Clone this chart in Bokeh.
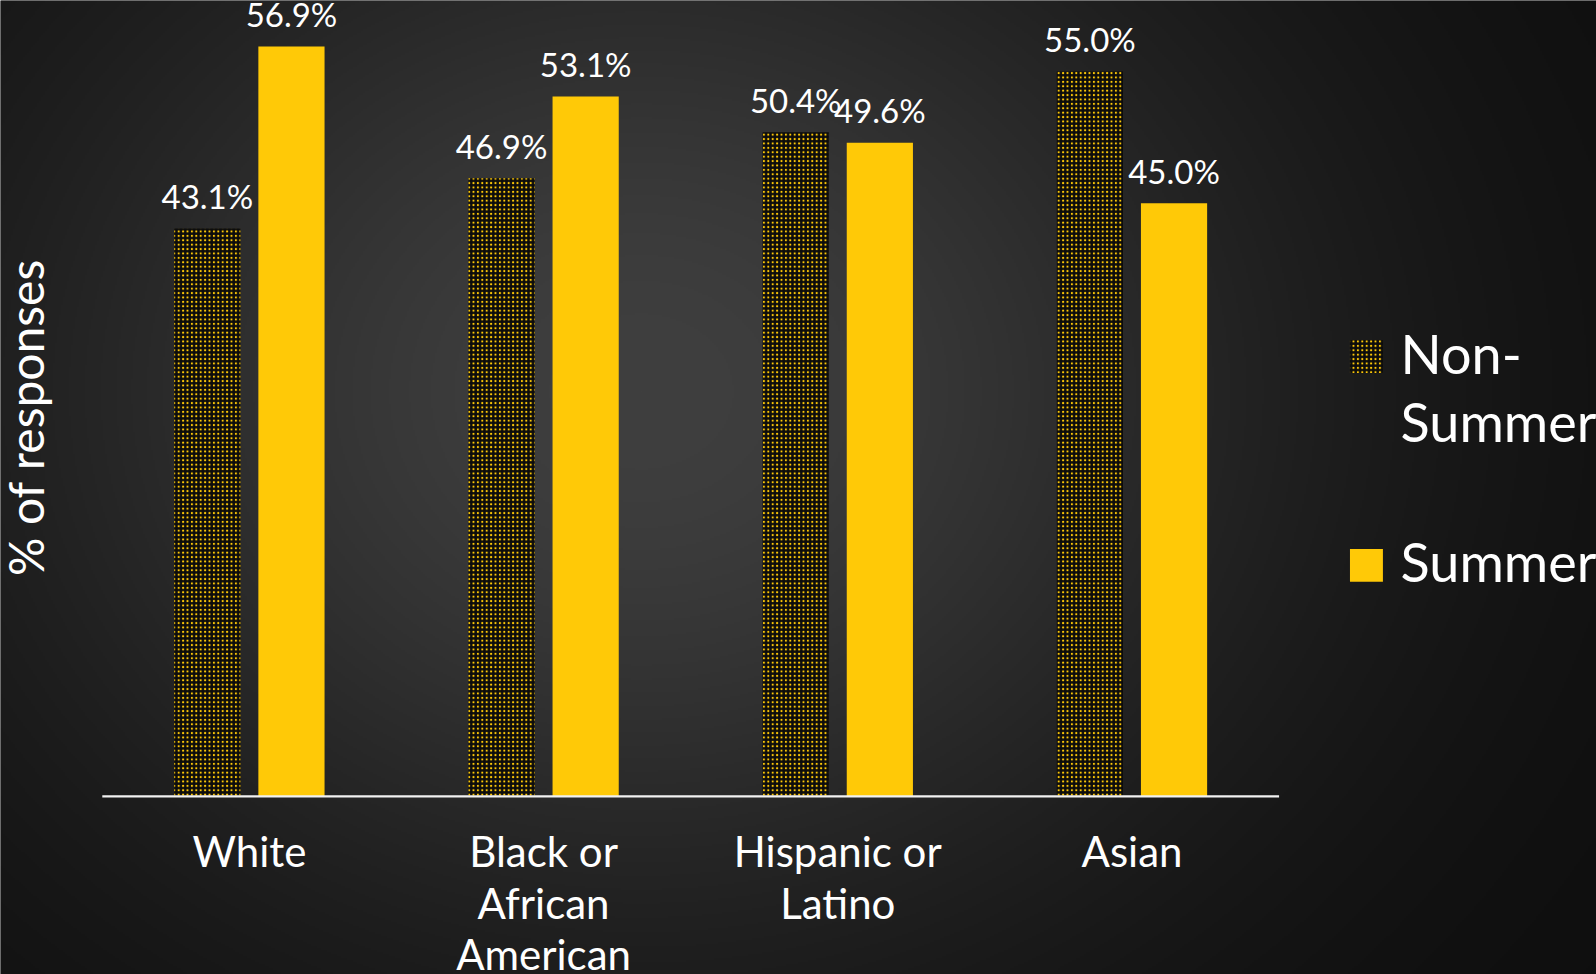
import numpy as np
from bokeh.plotting import figure
from bokeh.models import ColumnDataSource, Range1d
from bokeh.core.properties import value
from bokeh.embed import file_html
from bokeh.resources import INLINE

# ---- data ----
categories = ["White", "Black or\nAfrican\nAmerican", "Hispanic or\nLatino", "Asian"]
non_summer = [43.1, 46.9, 50.4, 55.0]
summer = [56.9, 53.1, 49.6, 45.0]
series_names = ["Non-\nSummer", "Summer"]
y_title = "% of responses"

YELLOW = "#FFC907"
FONT = "Lato"

W, H = 1596, 974
x0, x1 = -0.846, 4.579
y0, y1 = -13.51, 60.39

p = figure(width=W, height=H, x_range=Range1d(x0, x1), y_range=Range1d(y0, y1),
           x_axis_type=None, y_axis_type=None, toolbar_location=None,
           output_backend="svg", min_border=0, outline_line_color=None,
           background_fill_color="#1a1a1a", border_fill_color="#1a1a1a")
p.grid.visible = False

# radial gradient background
ny, nx = 487, 798
yy, xx = np.mgrid[0:ny, 0:nx]
sx = xx * (W / nx)
sy = (ny - 1 - yy) * (H / ny)  # row 0 is bottom
cx, cy = 640, 390
r2 = ((sx - cx) / 650.0) ** 2 + ((sy - cy) / 550.0) ** 2
v = 13 + 50 * np.exp(-r2)
v = np.clip(v, 0, 255).astype(np.uint32)
img = (255 << 24) | (v << 16) | (v << 8) | v
p.image_rgba(image=[img.astype(np.uint32)], x=x0, y=y0, dw=x1 - x0, dh=y1 - y0)

idx = np.arange(len(categories))
off, bw = 0.143, 0.225
lab_gap = 2.45
src = ColumnDataSource(dict(
    x_ns=idx - off, x_s=idx + off, ns=non_summer, s=summer, xc=idx,
    cat=categories,
    ns_lab=[f"{v_:.1f}%" for v_ in non_summer],
    s_lab=[f"{v_:.1f}%" for v_ in summer],
    ns_ly=[v_ + lab_gap for v_ in non_summer],
    s_ly=[v_ + lab_gap for v_ in summer],
))

p.vbar(x="x_ns", top="ns", width=bw, source=src, fill_color="#0c0c0c",
       line_color=None, hatch_pattern="dot", hatch_color=YELLOW,
       hatch_scale=4.4, hatch_weight=2.8)
p.vbar(x="x_s", top="s", width=bw, source=src, fill_color=YELLOW, line_color=None)

# baseline axis line
p.segment(x0=[-0.5], y0=[0], x1=[len(categories) - 0.5], y1=[0],
          line_color="#f2f2f2", line_width=2.2)

# data labels
p.text(x="x_ns", y="ns_ly", text="ns_lab", source=src, text_color="white",
       text_font=value(FONT), text_font_size="33px", text_align="center",
       text_baseline="alphabetic")
p.text(x="x_s", y="s_ly", text="s_lab", source=src, text_color="white",
       text_font=value(FONT), text_font_size="33px", text_align="center",
       text_baseline="alphabetic")

# category labels
p.text(x="xc", y=-2.28, text="cat", source=src, text_color="white",
       text_font=value(FONT), text_font_size="42px", text_align="center",
       text_baseline="top", text_line_height=1.03)

# y axis title
p.text(x=[-0.761], y=[28.76], text=[y_title], angle=np.pi / 2, text_color="white",
       text_font=value(FONT), text_font_size="48px", text_align="center",
       text_baseline="middle")

# legend
lx, lw, lh = 3.797, 0.112, 2.50
p.rect(x=[lx], y=[33.38], width=lw, height=lh, fill_color="#0c0c0c", line_color=None,
       hatch_pattern="dot", hatch_color=YELLOW, hatch_scale=4.4, hatch_weight=2.8)
p.rect(x=[lx], y=[17.53], width=lw, height=lh, fill_color=YELLOW, line_color=None)
p.text(x=[3.913, 3.913], y=[36.08, 20.30], text=series_names, text_color="white",
       text_font=value(FONT), text_font_size="54px", text_align="left",
       text_baseline="top", text_line_height=1.05)

open("out.html", "w").write(file_html(p, INLINE))
